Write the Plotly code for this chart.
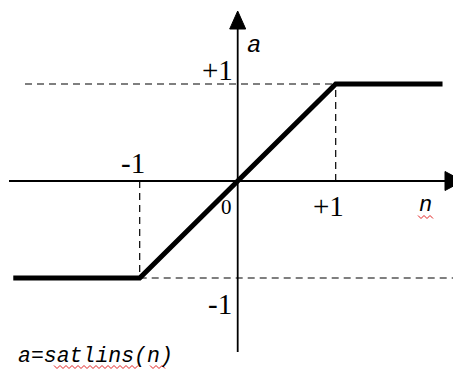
import plotly.graph_objects as go

# ---- data: satlins transfer function ----
n_points = [-2.29, -1, 1, 2.09]
a_points = [-1, -1, 1, 1]

tick_labels = ["+1", "-1", "0", "+1", "-1"]

W, H = 453, 371
OX, OY = 237.7, 181.0   # pixel position of origin
UX, UY = 98.0, 97.0     # pixels per unit

def X(px):
    return (px - OX) / UX

def Y(py):
    return (OY - py) / UY

fig = go.Figure()

# dashed guide lines
dash = dict(color="black", width=1.2, dash="7px,5px")
fig.add_trace(go.Scatter(x=[X(25), 1], y=[1, 1], mode="lines", line=dash))
fig.add_trace(go.Scatter(x=[-1, X(W)], y=[-1, -1], mode="lines", line=dash))
fig.add_trace(go.Scatter(x=[-1, -1], y=[0, -1], mode="lines", line=dash))
fig.add_trace(go.Scatter(x=[1, 1], y=[0, 1], mode="lines", line=dash))

# axes
ax = dict(color="black", width=1.8)
fig.add_trace(go.Scatter(x=[X(9), X(450)], y=[0, 0], mode="lines", line=ax))
fig.add_trace(go.Scatter(x=[0, 0], y=[Y(352), Y(25)], mode="lines", line=ax))

# arrowheads
shapes = [
    dict(type="path", xref="x", yref="y",
         path=f"M {X(OX)} {Y(11)} L {X(OX-8)} {Y(29)} L {X(OX+8)} {Y(29)} Z",
         fillcolor="black", line=dict(color="black", width=1)),
    dict(type="path", xref="x", yref="y",
         path=f"M {X(463)} {Y(OY)} L {X(445)} {Y(OY-9.5)} L {X(445)} {Y(OY+9.5)} Z",
         fillcolor="black", line=dict(color="black", width=1)),
]

# red spell-check squiggles (decoration)
def squiggle(x0, x1, py, step=3.0, amp=1.5):
    pts = []
    x = x0
    k = 0
    while x <= x1:
        pts.append((X(x), Y(py + (amp if k % 2 else -amp))))
        x += step
        k += 1
    p = "M " + " L ".join(f"{a} {b}" for a, b in pts)
    return dict(type="path", xref="x", yref="y", path=p,
                line=dict(color="#e02020", width=1))

shapes.append(squiggle(54, 138, 367))
shapes.append(squiggle(150, 165, 367))
shapes.append(squiggle(418, 433, 217))

annotations = []
def txt(px, py, s, size, family="Liberation Serif"):
    annotations.append(dict(x=X(px), y=Y(py), xref="x", yref="y", text=s,
                            showarrow=False, xanchor="center", yanchor="middle",
                            font=dict(family=family, size=size, color="black")))

txt(217, 70, tick_labels[0], 29)
txt(133, 163, tick_labels[1], 29)
txt(226, 207, tick_labels[2], 21)
txt(328, 206, tick_labels[3], 29)
txt(220, 304, tick_labels[4], 29)
txt(254, 45, "<i>a</i>", 24, "Liberation Mono")
txt(425, 205, "<i>n</i>", 22, "Liberation Mono")
txt(95, 356, "<i>a=satlins(n)</i>", 21.5, "Liberation Mono")

# the transfer function
fig.add_trace(go.Scatter(x=n_points, y=a_points, mode="lines",
                         line=dict(color="black", width=5)))

fig.update_layout(
    width=W, height=H, margin=dict(l=0, r=0, t=0, b=0),
    paper_bgcolor="white", plot_bgcolor="white", showlegend=False,
    shapes=shapes, annotations=annotations,
    xaxis=dict(range=[X(0), X(W)], visible=False, fixedrange=True),
    yaxis=dict(range=[Y(H), Y(0)], visible=False, fixedrange=True),
)

fig.write_html("out.html", config={"displayModeBar": False},
               post_script="document.body.style.margin='0';document.body.style.overflow='hidden';")
